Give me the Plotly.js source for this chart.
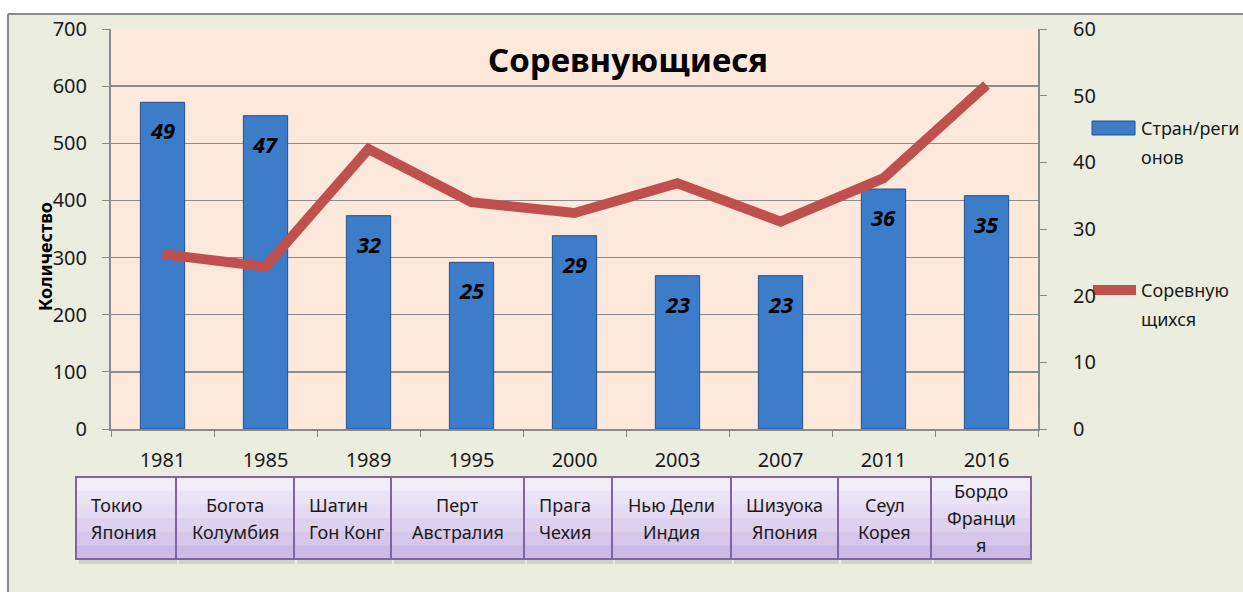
<!DOCTYPE html>
<html>
<head>
<meta charset="utf-8">
<script src="https://cdn.plot.ly/plotly-3.0.1.min.js"></script>
<style>html,body{margin:0;padding:0;background:#fff;}#chart{width:1243px;height:592px;}</style>
</head>
<body>
<div id="chart"></div>
<script>
// ---- data ----
var years = ["1981","1985","1989","1995","2000","2003","2007","2011","2016"];
var hosts = ["Токио<br>Япония","Богота<br>Колумбия","Шатин<br>Гон Конг","Перт<br>Австралия","Прага<br>Чехия","Нью Дели<br>Индия","Шизуока<br>Япония","Сеул<br>Корея","Бордо<br>Франци<br>я"];
var countries = [49, 47, 32, 25, 29, 23, 23, 36, 35];
var competitors = [306, 284, 490, 397, 378, 430, 363, 439, 602];
var seriesBar = "Стран/реги<br>онов";
var seriesLine = "Соревную<br>щихся";
var chartTitle = "Соревнующиеся";
var axisTitle = "Количество";

// ---- layout geometry (pixels) ----
var W = 1243, H = 592;
var L = 111, R = 1038, T = 29, B = 429;
function px(x){ return (x - L) / (R - L); }
function py(y){ return (B - y) / (B - T); }
var FONT = "Noto Sans, Open Sans, DejaVu Sans, sans-serif";
var BAR_COLOR = "#3d7cc9";
var BAR_EDGE = "#24528f";
var LINE_COLOR = "#c0504d";
var TEXT = "#1a1a1a";
var boxEdges = [76, 176, 294, 391, 524, 612, 731, 838, 931, 1031];
var boxAlign = ["left","center","left","center","left","center","center","center","center"];
var boxTop = 477, boxBottom = 559, boxLineGap = 27;

var shapes = [];
var annotations = [];
function rectPx(x0, y0, x1, y1, fill, line){
  shapes.push({type:"rect", xref:"paper", yref:"paper", x0:px(x0), x1:px(x1), y0:py(y1), y1:py(y0), fillcolor:fill, line:line || {width:0}, layer:"below"});
}
// white strip and outer frame
rectPx(-5, -5, W+5, 14, "#ffffff");
rectPx(-5, -5, 8, H+5, "#ffffff");
shapes.push({type:"line", xref:"paper", yref:"paper", x0:px(8), x1:px(W+5), y0:py(14), y1:py(14), line:{color:"#8a8a8a", width:2}, layer:"below"});
shapes.push({type:"line", xref:"paper", yref:"paper", x0:px(8), x1:px(8), y0:py(14), y1:py(H+5), line:{color:"#8a8a8a", width:2}, layer:"below"});

// host boxes (gradient bands + outline) with per-line labels
var bandCols = ["#f1edf9","#ebe4f6","#e4dbf2","#ddd1ee","#d5c6ea","#cdbbe5"];
for (var i = 0; i < hosts.length; i++) {
  var x0 = boxEdges[i], x1 = boxEdges[i+1];
  rectPx(x0+3, boxBottom-2, x1+1, boxBottom+5, "rgba(60,60,60,0.15)");
  var n = bandCols.length, h = (boxBottom - boxTop) / n;
  for (var k = 0; k < n; k++) rectPx(x0, boxTop + k*h, x1, boxTop + (k+1)*h + 0.5, bandCols[k]);
  rectPx(x0, boxTop, x1, boxBottom, "rgba(0,0,0,0)", {color:"#8064a2", width:2});
  var lines = hosts[i].split("<br>");
  var yc = (boxTop + boxBottom) / 2;
  for (var m = 0; m < lines.length; m++) {
    var yy = yc + (m - (lines.length - 1) / 2) * boxLineGap;
    var left = boxAlign[i] === "left";
    annotations.push({xref:"paper", yref:"paper", x:px(left ? x0 + 13 : (x0 + x1) / 2), y:py(yy), text:lines[m], showarrow:false, xanchor:left ? "left" : "center", yanchor:"middle", font:{family:FONT, size:18, color:TEXT}});
  }
}

// bar value labels (category axis positions are category indices)
for (var j = 0; j < years.length; j++) {
  annotations.push({x:j, y:countries[j], xref:"x", yref:"y", yshift:-28, text:"<b><i>"+countries[j]+"</i></b>", showarrow:false, font:{family:FONT, size:22, color:"#000"}});
}
// axis title
annotations.push({xref:"paper", yref:"paper", x:px(45), y:py(257), xanchor:"center", yanchor:"middle", text:"<b>"+axisTitle+"</b>", textangle:-90, showarrow:false, font:{family:FONT, size:18, color:"#000"}});

// legend (drawn as swatches + text)
rectPx(1092, 121, 1135, 135, BAR_COLOR, {color:BAR_EDGE, width:1});
shapes.push({type:"line", xref:"paper", yref:"paper", x0:px(1093), x1:px(1136), y0:py(290), y1:py(290), line:{color:LINE_COLOR, width:10}, layer:"below"});
function legendText(name, yFirst){
  var parts = name.split("<br>");
  for (var p = 0; p < parts.length; p++) {
    annotations.push({xref:"paper", yref:"paper", x:px(1139), y:py(yFirst + p*29), text:parts[p], showarrow:false, xanchor:"left", yanchor:"middle", font:{family:FONT, size:18, color:TEXT}});
  }
}
legendText(seriesBar, 128);
legendText(seriesLine, 290);

var traceBar = {
  type:"bar", x:years, y:countries, name:seriesBar, yaxis:"y", width:0.43, showlegend:false,
  marker:{color:BAR_COLOR, line:{color:BAR_EDGE, width:1}}
};
var traceLine = {
  type:"scatter", mode:"lines", x:years, y:competitors, name:seriesLine, yaxis:"y2", showlegend:false,
  line:{color:LINE_COLOR, width:10}
};

var layout = {
  width:W, height:H,
  margin:{l:L, r:W-R, t:T, b:H-B, pad:0},
  paper_bgcolor:"#ebeedf", plot_bgcolor:"#fce9dc",
  font:{family:FONT, size:18, color:TEXT},
  showlegend:false,
  title:{text:"<b>"+chartTitle+"</b>", x:px(628), xref:"paper", xanchor:"center", y:py(60), yref:"paper", yanchor:"middle", font:{family:FONT, size:33, color:"#000"}},
  xaxis:{type:"category", range:[-0.5, years.length-0.5], tickson:"boundaries", ticks:"outside", ticklen:6, tickcolor:"#8a8a8a", showline:true, linecolor:"#8a8a8a", linewidth:2, showgrid:false, ticklabelstandoff:12, tickfont:{family:FONT, size:20, color:TEXT}},
  yaxis:{side:"right", range:[0,60], dtick:10, ticks:"outside", ticklen:7, tickcolor:"#8a8a8a", showline:true, linecolor:"#8a8a8a", linewidth:2, showgrid:false, zeroline:false, ticklabelstandoff:22, tickfont:{family:FONT, size:20, color:TEXT}},
  yaxis2:{side:"left", overlaying:"y", range:[0,700], dtick:100, ticks:"outside", ticklen:7, tickcolor:"#8a8a8a", showline:true, linecolor:"#8a8a8a", linewidth:2, showgrid:true, gridcolor:"#8c8c8c", gridwidth:1.5, zeroline:false, ticklabelstandoff:11, tickfont:{family:FONT, size:20, color:TEXT}},
  shapes:shapes,
  annotations:annotations
};

Plotly.newPlot("chart", [traceBar, traceLine], layout, {displayModeBar:false, staticPlot:true});
</script>
</body>
</html>
